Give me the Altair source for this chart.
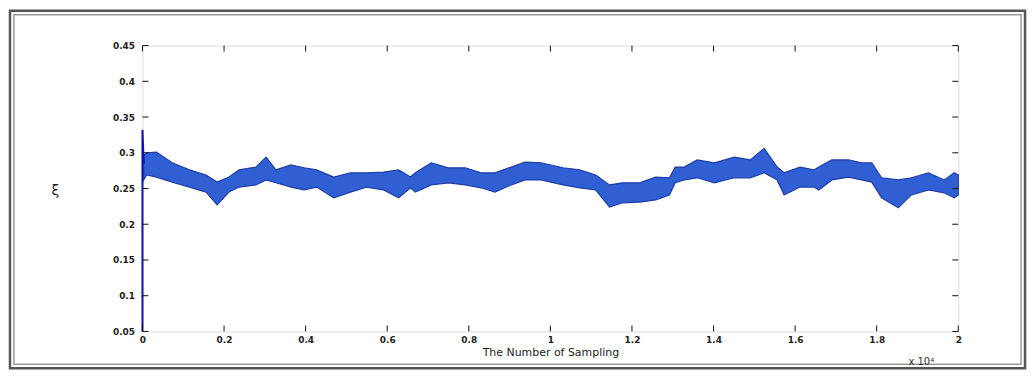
import altair as alt
import pandas as pd

# sample index in units of 10^4
x_pos = [0.003, 0.010, 0.034, 0.073, 0.115, 0.156, 0.183, 0.212, 0.237, 0.278, 0.303,
         0.327, 0.364, 0.396, 0.427, 0.469, 0.510, 0.549, 0.591, 0.628, 0.657, 0.669,
         0.708, 0.750, 0.791, 0.830, 0.864, 0.904, 0.938, 0.977, 1.031, 1.072, 1.111,
         1.145, 1.177, 1.219, 1.258, 1.292, 1.306, 1.328, 1.360, 1.402, 1.451, 1.490,
         1.524, 1.556, 1.573, 1.612, 1.646, 1.658, 1.690, 1.731, 1.763, 1.788, 1.812,
         1.853, 1.885, 1.927, 1.966, 1.990, 2.000]
upper = [0.296, 0.300, 0.301, 0.286, 0.276, 0.269, 0.259, 0.266, 0.276, 0.280, 0.294,
         0.276, 0.283, 0.279, 0.276, 0.266, 0.272, 0.272, 0.273, 0.276, 0.266, 0.272,
         0.286, 0.279, 0.279, 0.272, 0.272, 0.280, 0.287, 0.286, 0.279, 0.276, 0.269,
         0.255, 0.258, 0.258, 0.266, 0.265, 0.280, 0.280, 0.290, 0.286, 0.294, 0.290,
         0.306, 0.280, 0.272, 0.280, 0.276, 0.280, 0.290, 0.290, 0.286, 0.286, 0.265,
         0.262, 0.265, 0.272, 0.262, 0.272, 0.269]
lower = [0.262, 0.269, 0.266, 0.259, 0.252, 0.245, 0.227, 0.245, 0.252, 0.255, 0.262,
         0.258, 0.252, 0.248, 0.252, 0.237, 0.245, 0.252, 0.248, 0.237, 0.251, 0.245,
         0.255, 0.258, 0.255, 0.251, 0.245, 0.255, 0.262, 0.262, 0.255, 0.251, 0.248,
         0.224, 0.230, 0.231, 0.234, 0.241, 0.258, 0.262, 0.265, 0.258, 0.265, 0.265,
         0.272, 0.262, 0.241, 0.252, 0.252, 0.248, 0.262, 0.266, 0.262, 0.259, 0.237,
         0.223, 0.241, 0.248, 0.244, 0.237, 0.241]

start_x = [0.0, 0.0, 0.003]
start_y = [0.05, 0.332, 0.285]

y_ticks = [0.05, 0.1, 0.15, 0.2, 0.25, 0.3, 0.35, 0.4, 0.45]
x_ticks = [0, 0.2, 0.4, 0.6, 0.8, 1.0, 1.2, 1.4, 1.6, 1.8, 2.0]

band_df = pd.DataFrame({"x": x_pos, "hi": upper, "lo": lower})
start_df = pd.DataFrame({"x": start_x, "y": start_y})
yt_df = pd.DataFrame({"v": y_ticks})
xt_df = pd.DataFrame({"v": x_ticks})

W, H = 819, 287
xs = alt.Scale(domain=[0, 2], nice=False, zero=False)
ys = alt.Scale(domain=[0.05, 0.45], nice=False, zero=False)

label_font = "DejaVu Sans"

x_axis = alt.Axis(values=x_ticks, labelExpr="datum.value == 0 ? '0' : format(datum.value, '.1~f')",
                  title="The Number of Sampling", grid=False, ticks=False, domain=False,
                  labelFont=label_font, labelFontSize=9, labelColor="#222", labelPadding=4,
                  labelFontWeight="bold", labelOverlap=False,
                  titleFont=label_font, titleFontSize=11, titleFontWeight="normal",
                  titleColor="#222", titlePadding=2, labelFlush=False)
y_axis = alt.Axis(values=y_ticks, labelExpr="format(datum.value, '.2~f')",
                  title="ξ", grid=False, ticks=False, domain=False,
                  labelFont=label_font, labelFontSize=9, labelColor="#222", labelPadding=8,
                  labelFontWeight="bold", labelOverlap=False, labelFlush=False,
                  titleFont=label_font, titleFontSize=14, titleFontWeight="normal",
                  titleColor="#222", titleAngle=0, titleX=-88, titleY=146,
                  titleAlign="center", titleBaseline="middle")

band = alt.Chart(band_df).mark_area(color="#2f5fd3", stroke="#1f3fa6", strokeWidth=1.2,
                                    opacity=1).encode(
    x=alt.X("x:Q", scale=xs, axis=x_axis),
    y=alt.Y("hi:Q", scale=ys, axis=y_axis),
    y2="lo:Q",
)

start = alt.Chart(start_df).mark_line(color="#1010b8", strokeWidth=2).encode(
    x=alt.X("x:Q", scale=xs, axis=x_axis), y=alt.Y("y:Q", scale=ys, axis=y_axis)
)

# inward ticks (MATLAB style)
yt_left = alt.Chart(yt_df).mark_rule(color="#111", strokeWidth=1).encode(
    y=alt.Y("v:Q", scale=ys, axis=y_axis), x=alt.value(0), x2=alt.value(6))
yt_right = alt.Chart(yt_df).mark_rule(color="#111", strokeWidth=1).encode(
    y=alt.Y("v:Q", scale=ys, axis=y_axis), x=alt.value(W - 6), x2=alt.value(W))
xt_bottom = alt.Chart(xt_df).mark_rule(color="#111", strokeWidth=1).encode(
    x=alt.X("v:Q", scale=xs, axis=x_axis), y=alt.value(H - 6), y2=alt.value(H))
xt_top = alt.Chart(xt_df).mark_rule(color="#111", strokeWidth=1).encode(
    x=alt.X("v:Q", scale=xs, axis=x_axis), y=alt.value(0), y2=alt.value(6))

# exponent label
expo = alt.Chart(pd.DataFrame({"t": ["x 10\u2074"]})).mark_text(
    font=label_font, fontSize=10, color="#333", align="left", baseline="middle"
).encode(text="t:N", x=alt.value(W - 50), y=alt.value(H + 31))

# picture frame around everything
frame_outer = alt.Chart(pd.DataFrame({"a": [1]})).mark_rect(
    fill=None, stroke="#555", strokeWidth=2.5, clip=False
).encode(x=alt.value(-133), x2=alt.value(W + 67), y=alt.value(-35), y2=alt.value(H + 37))
frame_inner = alt.Chart(pd.DataFrame({"a": [1]})).mark_rect(
    fill=None, stroke="#999", strokeWidth=1.5, clip=False
).encode(x=alt.value(-129), x2=alt.value(W + 63), y=alt.value(-31), y2=alt.value(H + 33))

chart = alt.layer(
    frame_outer, frame_inner, band, start, yt_left, yt_right, xt_bottom, xt_top, expo
).properties(
    width=W, height=H,
    padding={"left": 135, "top": 37, "right": 70, "bottom": 40},
    autosize=alt.AutoSizeParams(type="none"),
).configure_view(
    stroke="#111", strokeWidth=1.2
).configure_axis(
    labelOverlap=False
).configure(background="white")

chart.save("out.html", embed_options={"renderer": "svg", "actions": False})
